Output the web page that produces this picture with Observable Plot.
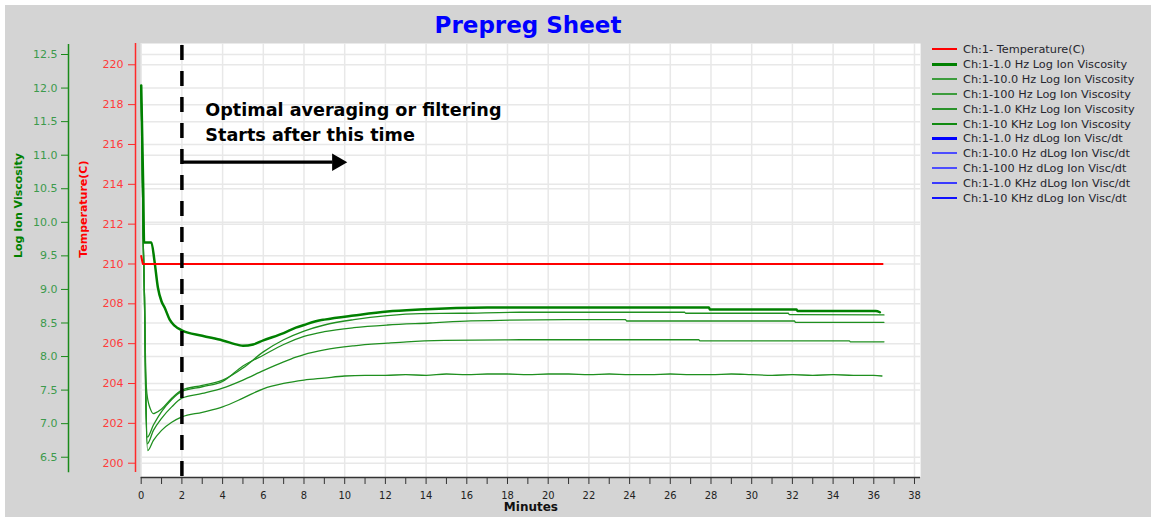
<!DOCTYPE html>
<html>
<head>
<meta charset="utf-8">
<script src="https://cdn.jsdelivr.net/npm/d3@7"></script>
<script src="https://cdn.jsdelivr.net/npm/@observablehq/plot@0.6"></script>
<style>
  body { margin: 0; background: #fff; }
  #fig { position: relative; width: 1151px; height: 517px; overflow: hidden; font-family: "DejaVu Sans", sans-serif; }
  #bg { position: absolute; left: 5px; top: 5px; right: 0; bottom: 0; background: #d4d4d4; }
  #title { position: absolute; left: 0; width: 1056px; top: 14px; text-align: center; font: bold 23px/23px "DejaVu Sans", sans-serif; color: #0000ff; }
  .layer { position: absolute; left: 0; top: 0; }
  #legend { position: absolute; left: 932px; top: 43.3px; font: 11.3px/14.86px "DejaVu Sans", sans-serif; color: #26262e; white-space: nowrap; }
  #legend .sw { display: inline-block; width: 25px; height: 0; vertical-align: middle; margin-right: 6px; position: relative; top: -1px; }
</style>
</head>
<body>
<div id="fig">
  <div id="bg"></div>
  <div id="title">Prepreg Sheet</div>
  <div id="legend"></div>
</div>
<script>
// ---------- data ----------
const minuteTicks = [0,1,2,3,4,5,6,7,8,9,10,11,12,13,14,15,16,17,18,19,20,21,22,23,24,25,26,27,28,29,30,31,32,33,34,35,36,37,38];
const minuteLabels = [0,2,4,6,8,10,12,14,16,18,20,22,24,26,28,30,32,34,36,38];
const tempTicks = [200,202,204,206,208,210,212,214,216,218,220];
const viscTicks = [6.5,7.0,7.5,8.0,8.5,9.0,9.5,10.0,10.5,11.0,11.5,12.0,12.5];

const temperature = [[0,210.4],[0.08,210.0],[36.43,210.0]];

const visc1Hz = [[0,12.04],[0.05,11.28],[0.1,10.5],[0.14,9.70],[0.5,9.70],[0.65,9.43],[0.82,9.03],[1.0,8.82],[1.15,8.73],[1.4,8.55],[1.64,8.46],[2,8.39],[3,8.31],[4,8.24],[4.8,8.17],[5.0,8.16],[5.5,8.18],[6,8.24],[7,8.35],[7.6,8.43],[8,8.47],[8.8,8.54],[9,8.55],[10.45,8.61],[12.1,8.67],[13.7,8.70],[17,8.73],[27.9,8.73],[27.95,8.70],[32.2,8.70],[32.25,8.68],[36.1,8.68],[36.3,8.66]];

const visc10Hz = [[0,12.0],[0.1,9.7],[0.16,8.9],[0.22,7.8],[0.28,7.45],[0.45,7.22],[0.6,7.15],[0.7,7.16],[1.0,7.22],[1.5,7.38],[2,7.50],[3,7.57],[4,7.65],[5,7.83],[6,8.07],[7,8.25],[8,8.38],[9,8.47],[10.45,8.55],[12.1,8.61],[13.7,8.64],[15.7,8.645],[18.6,8.66],[26.7,8.66],[26.75,8.645],[31.8,8.645],[31.85,8.625],[36.5,8.62]];

const visc100Hz = [[0,12.0],[0.1,9.7],[0.16,8.9],[0.22,7.6],[0.3,6.80],[0.6,6.98],[1.0,7.18],[1.5,7.36],[2,7.48],[3,7.55],[4,7.63],[5,7.86],[6,8.02],[7,8.18],[8,8.30],[9,8.37],[10.45,8.43],[12.1,8.47],[14.2,8.50],[16.2,8.53],[20.9,8.55],[23.8,8.55],[23.85,8.53],[32.1,8.53],[32.15,8.51],[36.5,8.51]];

const visc1KHz = [[0,12.0],[0.1,9.7],[0.16,8.9],[0.22,7.5],[0.3,6.70],[0.6,6.90],[1.0,7.08],[1.5,7.25],[2,7.38],[3,7.45],[4,7.53],[5,7.65],[6,7.79],[7,7.92],[7.6,7.99],[8,8.03],[9,8.10],[10.45,8.16],[12.1,8.20],[13.05,8.22],[14.9,8.24],[18.6,8.25],[27.4,8.25],[27.45,8.235],[34.8,8.235],[34.85,8.22],[36.5,8.22]];

const visc10KHz = [[0,12.0],[0.1,9.7],[0.16,8.9],[0.22,7.4],[0.32,6.60],[0.6,6.75],[1.0,6.90],[1.5,7.02],[2,7.10],[3,7.17],[4,7.25],[5,7.38],[6,7.52],[7,7.60],[8,7.65],[9,7.68],[10,7.71],[11,7.72],[12,7.72],[13,7.73],[14,7.72],[15,7.74],[16,7.73],[17,7.74],[18,7.74],[19,7.73],[20,7.74],[21,7.74],[22,7.73],[23,7.74],[24,7.73],[25,7.73],[26,7.74],[27,7.73],[28,7.73],[29,7.74],[30,7.73],[31,7.72],[32,7.73],[33,7.72],[34,7.73],[35,7.72],[36,7.72],[36.4,7.71]];

const legendLabels = [
  "Ch:1- Temperature(C)",
  "Ch:1-1.0 Hz Log Ion Viscosity",
  "Ch:1-10.0 Hz Log Ion Viscosity",
  "Ch:1-100 Hz Log Ion Viscosity",
  "Ch:1-1.0 KHz Log Ion Viscosity",
  "Ch:1-10 KHz Log Ion Viscosity",
  "Ch:1-1.0 Hz dLog Ion Visc/dt",
  "Ch:1-10.0 Hz dLog Ion Visc/dt",
  "Ch:1-100 Hz dLog Ion Visc/dt",
  "Ch:1-1.0 KHz dLog Ion Visc/dt",
  "Ch:1-10 KHz dLog Ion Visc/dt"
];

const annotationText = "Optimal averaging or filtering\nStarts after this time";
const startMinute = 2;

// ---------- styles & layout ----------
const legendStyle = [
  ["#ff0000", 2], ["#008000", 3], ["#3c9c3c", 2], ["#3c9c3c", 2], ["#2a922a", 2], ["#108a10", 2],
  ["#0000ff", 3], ["#4d4dff", 2], ["#4d4dff", 2], ["#3a3aff", 2], ["#1010ff", 2]
];
const legend = document.getElementById("legend");
legendLabels.forEach((lab, i) => {
  const row = document.createElement("div");
  const sw = document.createElement("span");
  sw.className = "sw";
  sw.style.borderTop = `${legendStyle[i][1]}px solid ${legendStyle[i][0]}`;
  row.appendChild(sw);
  row.appendChild(document.createTextNode(lab));
  legend.appendChild(row);
});

const W = 1151, H = 517;
const xDomain = [0, 38.3];
const tempDomain = [199.282, 221.069];
const viscDomain = [6.198, 12.664];
const base = {
  width: W, height: H,
  marginTop: 43, marginBottom: 40, marginLeft: 140.7, marginRight: 230.9,
  style: { background: "transparent", overflow: "visible", fontFamily: "DejaVu Sans, sans-serif" },
  className: "layer"
};
const grid = { stroke: "#e8e8e8", strokeWidth: 1.5 };
const pt = { x: d => d[0], y: d => d[1], curve: "monotone-x" };

const layer0 = Plot.plot({
  ...base,
  x: { domain: xDomain, axis: null },
  y: { domain: tempDomain, axis: null },
  marks: [
    Plot.frame({ fill: "white", stroke: "none" }),
    Plot.ruleY(tempTicks, grid),
    Plot.ruleX(minuteLabels, grid)
  ]
});

const thin = { stroke: "#1f8f1f", strokeWidth: 1.3 };
const layer1 = Plot.plot({
  ...base,
  x: { domain: xDomain, axis: null },
  y: { domain: viscDomain },
  marks: [
    Plot.ruleY(viscTicks, grid),
    Plot.ruleX([0], { y1: 6.27, y2: 12.65, dx: -72.7, stroke: "#1a8a1a", strokeWidth: 1.5 }),
    Plot.axisY({ ticks: viscTicks, tickFormat: d3.format(".1f"), anchor: "left", dx: -72.7, tickSize: 7, tickPadding: 4,
      stroke: "#1a8a1a", fill: "#3c9a4c", fontSize: 11, label: null }),
    Plot.text(["Log Ion Viscosity"], { text: d => d, frameAnchor: "left", dx: -123.2, dy: -2.5, rotate: -90,
      fontWeight: "bold", fontSize: 11, fill: "#008000" }),
    Plot.line(visc10KHz, { ...pt, ...thin }),
    Plot.line(visc1KHz, { ...pt, ...thin }),
    Plot.line(visc100Hz, { ...pt, ...thin }),
    Plot.line(visc10Hz, { ...pt, ...thin }),
    Plot.line(visc1Hz, { ...pt, stroke: "#008000", strokeWidth: 2.5 })
  ]
});

const layer2 = Plot.plot({
  ...base,
  x: { domain: xDomain },
  y: { domain: tempDomain },
  marks: [
    Plot.line(temperature, { x: d => d[0], y: d => d[1], stroke: "#ff0000", strokeWidth: 2 }),
    Plot.ruleX([0], { y1: 199.53, y2: 221.07, dx: -5.7, stroke: "#ff2a2a", strokeWidth: 1.5 }),
    Plot.axisY({ ticks: tempTicks, anchor: "left", dx: -5.7, tickSize: 7, tickPadding: 5,
      stroke: "#ff2a2a", fill: "#ff3b3b", fontSize: 11, label: null }),
    Plot.text(["Temperature(C)"], { text: d => d, frameAnchor: "left", dx: -57.4, dy: -2.7, rotate: -90,
      fontWeight: "bold", fontSize: 11, fill: "#ff0000" }),
    Plot.ruleY([tempDomain[0]], { stroke: "#333", strokeWidth: 1.5 }),
    Plot.axisX({ ticks: minuteTicks, tickFormat: d => minuteLabels.includes(d) ? String(d) : "", anchor: "bottom",
      tickSize: 7, tickPadding: 7, stroke: "#333", fill: "#222", fontSize: 11,
      fontFamily: "Liberation Sans Narrow, DejaVu Sans Condensed, sans-serif", label: null }),
    Plot.text(["Minutes"], { text: d => d, frameAnchor: "bottom", dy: 33.5, fontWeight: "bold", fontSize: 12, fill: "#111" }),
    Plot.ruleX([startMinute], { stroke: "black", strokeWidth: 3.5, strokeDasharray: "15,11", strokeDashoffset: -2 }),
    Plot.link([{ x1: startMinute, x2: 9.4, y: 215.11 }], { x1: "x1", x2: "x2", y1: "y", y2: "y", stroke: "black", strokeWidth: 3.2 }),
    Plot.dot([{ x: 9.63, y: 215.11 }], { x: "x", y: "y", symbol: "triangle", rotate: 90, r: 6.5, fill: "black", stroke: "none" }),
    Plot.text([annotationText], { text: d => d, x: 3.15, y: 218.31, textAnchor: "start", lineAnchor: "top", lineHeight: 1.42,
      fontSize: 17.6, fontWeight: "bold", fill: "black" })
  ]
});

const fig = document.getElementById("fig");
const title = document.getElementById("title");
fig.insertBefore(layer0, title);
fig.insertBefore(layer1, title);
fig.insertBefore(layer2, title);
</script>
</body>
</html>
